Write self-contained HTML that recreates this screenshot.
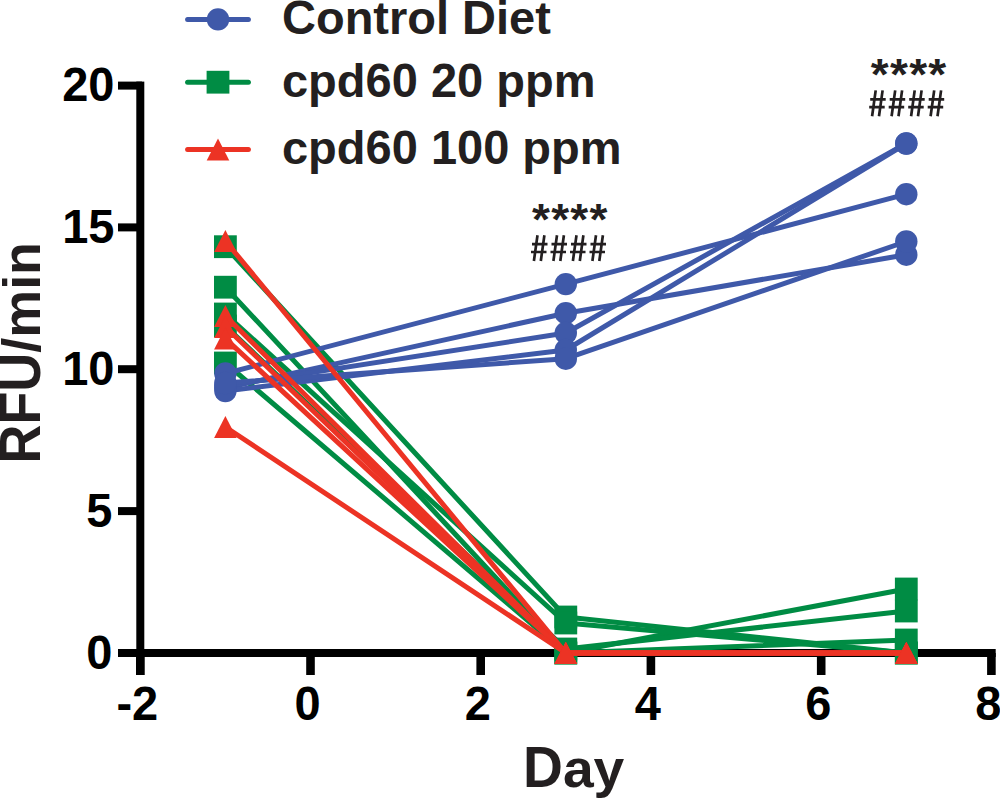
<!DOCTYPE html>
<html><head><meta charset="utf-8"><style>
html,body{margin:0;padding:0;background:#fff;width:1000px;height:799px;overflow:hidden}
svg{display:block}
text{font-family:"Liberation Sans",sans-serif}
.tk{font-weight:bold;font-size:47px;fill:#000}
.lg{font-weight:bold;font-size:47px;fill:#231F20}
.ti{font-weight:bold;font-size:54px;fill:#231F20}
.ast{font-weight:bold;font-size:46px;letter-spacing:1.27px;fill:#231F20}
.hs{font-weight:normal;font-size:35.5px;fill:#231F20}
</style></head><body>
<svg width="1000" height="799" viewBox="0 0 1000 799">
<rect x="136.3" y="81.6" width="8" height="593.4" fill="#000"/>
<rect x="118" y="81.6" width="24" height="8" fill="#000"/>
<rect x="118" y="223.4" width="24" height="8" fill="#000"/>
<rect x="118" y="365.2" width="24" height="8" fill="#000"/>
<rect x="118" y="507.1" width="24" height="8" fill="#000"/>
<rect x="118" y="649.0" width="24" height="8" fill="#000"/>
<rect x="118" y="649" width="877.7" height="8" fill="#000"/>
<rect x="136.0" y="653" width="8.6" height="22" fill="#000"/>
<rect x="306.2" y="653" width="8.6" height="22" fill="#000"/>
<rect x="476.4" y="653" width="8.6" height="22" fill="#000"/>
<rect x="646.6" y="653" width="8.6" height="22" fill="#000"/>
<rect x="816.9" y="653" width="8.6" height="22" fill="#000"/>
<rect x="987.1" y="653" width="8.6" height="22" fill="#000"/>
<text transform="translate(114.5,101.4) scale(1,1.025)" text-anchor="end" class="tk">20</text>
<text transform="translate(114.5,243.2) scale(1,1.025)" text-anchor="end" class="tk">15</text>
<text transform="translate(114.5,385.0) scale(1,1.025)" text-anchor="end" class="tk">10</text>
<text transform="translate(112.3,526.9) scale(1,1.025)" text-anchor="end" class="tk">5</text>
<text transform="translate(112.3,668.8) scale(1,1.025)" text-anchor="end" class="tk">0</text>
<text transform="translate(137.3,720.0) scale(1,1.025)" text-anchor="middle" class="tk">-2</text>
<text transform="translate(307.5,720.0) scale(1,1.025)" text-anchor="middle" class="tk">0</text>
<text transform="translate(477.7,720.0) scale(1,1.025)" text-anchor="middle" class="tk">2</text>
<text transform="translate(647.9,720.0) scale(1,1.025)" text-anchor="middle" class="tk">4</text>
<text transform="translate(818.2,720.0) scale(1,1.025)" text-anchor="middle" class="tk">6</text>
<text transform="translate(988.4,720.0) scale(1,1.025)" text-anchor="middle" class="tk">8</text>
<polyline points="225.4,246.7 565.8,617.0 906.3,653.0" fill="none" stroke="#008C44" stroke-width="5.0" stroke-linejoin="round" stroke-linecap="round"/>
<polyline points="225.4,287.2 565.8,653.0 906.3,589.0" fill="none" stroke="#008C44" stroke-width="5.0" stroke-linejoin="round" stroke-linecap="round"/>
<polyline points="225.4,314.0 565.8,623.0 906.3,653.0" fill="none" stroke="#008C44" stroke-width="5.0" stroke-linejoin="round" stroke-linecap="round"/>
<polyline points="225.4,326.0 565.8,649.0 906.3,611.0" fill="none" stroke="#008C44" stroke-width="5.0" stroke-linejoin="round" stroke-linecap="round"/>
<polyline points="225.4,363.0 565.8,653.0 906.3,640.0" fill="none" stroke="#008C44" stroke-width="5.0" stroke-linejoin="round" stroke-linecap="round"/>
<rect x="214.0" y="235.3" width="22.8" height="22.8" fill="#008C44"/>
<rect x="554.4" y="605.6" width="22.8" height="22.8" fill="#008C44"/>
<rect x="894.9" y="641.6" width="22.8" height="22.8" fill="#008C44"/>
<rect x="214.0" y="275.8" width="22.8" height="22.8" fill="#008C44"/>
<rect x="554.4" y="641.6" width="22.8" height="22.8" fill="#008C44"/>
<rect x="894.9" y="577.6" width="22.8" height="22.8" fill="#008C44"/>
<rect x="214.0" y="302.6" width="22.8" height="22.8" fill="#008C44"/>
<rect x="554.4" y="611.6" width="22.8" height="22.8" fill="#008C44"/>
<rect x="894.9" y="641.6" width="22.8" height="22.8" fill="#008C44"/>
<rect x="214.0" y="314.6" width="22.8" height="22.8" fill="#008C44"/>
<rect x="554.4" y="637.6" width="22.8" height="22.8" fill="#008C44"/>
<rect x="894.9" y="599.6" width="22.8" height="22.8" fill="#008C44"/>
<rect x="214.0" y="351.6" width="22.8" height="22.8" fill="#008C44"/>
<rect x="554.4" y="641.6" width="22.8" height="22.8" fill="#008C44"/>
<rect x="894.9" y="628.6" width="22.8" height="22.8" fill="#008C44"/>
<polyline points="225.4,373.5 565.8,284.1 906.3,194.2" fill="none" stroke="#3F59A9" stroke-width="5.0" stroke-linejoin="round" stroke-linecap="round"/>
<polyline points="225.4,388.0 565.8,313.2 906.3,254.7" fill="none" stroke="#3F59A9" stroke-width="5.0" stroke-linejoin="round" stroke-linecap="round"/>
<polyline points="225.4,386.0 565.8,333.0 906.3,143.5" fill="none" stroke="#3F59A9" stroke-width="5.0" stroke-linejoin="round" stroke-linecap="round"/>
<polyline points="225.4,391.0 565.8,350.0 906.3,143.5" fill="none" stroke="#3F59A9" stroke-width="5.0" stroke-linejoin="round" stroke-linecap="round"/>
<polyline points="225.4,383.0 565.8,358.7 906.3,241.5" fill="none" stroke="#3F59A9" stroke-width="5.0" stroke-linejoin="round" stroke-linecap="round"/>
<circle cx="225.4" cy="373.5" r="11.2" fill="#3F59A9"/>
<circle cx="565.8" cy="284.1" r="11.2" fill="#3F59A9"/>
<circle cx="906.3" cy="194.2" r="11.2" fill="#3F59A9"/>
<circle cx="225.4" cy="388.0" r="11.2" fill="#3F59A9"/>
<circle cx="565.8" cy="313.2" r="11.2" fill="#3F59A9"/>
<circle cx="906.3" cy="254.7" r="11.2" fill="#3F59A9"/>
<circle cx="225.4" cy="386.0" r="11.2" fill="#3F59A9"/>
<circle cx="565.8" cy="333.0" r="11.2" fill="#3F59A9"/>
<circle cx="906.3" cy="143.5" r="11.2" fill="#3F59A9"/>
<circle cx="225.4" cy="391.0" r="11.2" fill="#3F59A9"/>
<circle cx="565.8" cy="350.0" r="11.2" fill="#3F59A9"/>
<circle cx="906.3" cy="143.5" r="11.2" fill="#3F59A9"/>
<circle cx="225.4" cy="383.0" r="11.2" fill="#3F59A9"/>
<circle cx="565.8" cy="358.7" r="11.2" fill="#3F59A9"/>
<circle cx="906.3" cy="241.5" r="11.2" fill="#3F59A9"/>
<polyline points="225.4,241.0 565.8,653.0 906.3,653.0" fill="none" stroke="#EC3324" stroke-width="5.0" stroke-linejoin="round" stroke-linecap="round"/>
<polyline points="225.4,316.0 565.8,653.0 906.3,653.0" fill="none" stroke="#EC3324" stroke-width="5.0" stroke-linejoin="round" stroke-linecap="round"/>
<polyline points="225.4,327.0 565.8,653.0 906.3,653.0" fill="none" stroke="#EC3324" stroke-width="5.0" stroke-linejoin="round" stroke-linecap="round"/>
<polyline points="225.4,338.6 565.8,653.0 906.3,653.0" fill="none" stroke="#EC3324" stroke-width="5.0" stroke-linejoin="round" stroke-linecap="round"/>
<polyline points="225.4,427.0 565.8,653.0 906.3,653.0" fill="none" stroke="#EC3324" stroke-width="5.0" stroke-linejoin="round" stroke-linecap="round"/>
<polygon points="225.4,230.0 236.7,252.0 214.1,252.0" fill="#EC3324"/>
<polygon points="565.8,642.0 577.1,664.0 554.5,664.0" fill="#EC3324"/>
<polygon points="906.3,642.0 917.6,664.0 895.0,664.0" fill="#EC3324"/>
<polygon points="225.4,305.0 236.7,327.0 214.1,327.0" fill="#EC3324"/>
<polygon points="565.8,642.0 577.1,664.0 554.5,664.0" fill="#EC3324"/>
<polygon points="906.3,642.0 917.6,664.0 895.0,664.0" fill="#EC3324"/>
<polygon points="225.4,316.0 236.7,338.0 214.1,338.0" fill="#EC3324"/>
<polygon points="565.8,642.0 577.1,664.0 554.5,664.0" fill="#EC3324"/>
<polygon points="906.3,642.0 917.6,664.0 895.0,664.0" fill="#EC3324"/>
<polygon points="225.4,327.6 236.7,349.6 214.1,349.6" fill="#EC3324"/>
<polygon points="565.8,642.0 577.1,664.0 554.5,664.0" fill="#EC3324"/>
<polygon points="906.3,642.0 917.6,664.0 895.0,664.0" fill="#EC3324"/>
<polygon points="225.4,416.0 236.7,438.0 214.1,438.0" fill="#EC3324"/>
<polygon points="565.8,642.0 577.1,664.0 554.5,664.0" fill="#EC3324"/>
<polygon points="906.3,642.0 917.6,664.0 895.0,664.0" fill="#EC3324"/>
<line x1="187.6" y1="19.4" x2="248.4" y2="19.4" stroke="#3F59A9" stroke-width="5.0" stroke-linecap="round"/>
<circle cx="218.0" cy="19.4" r="11.2" fill="#3F59A9"/>
<line x1="187.6" y1="82.2" x2="248.4" y2="82.2" stroke="#008C44" stroke-width="5.0" stroke-linecap="round"/>
<rect x="206.6" y="70.8" width="22.8" height="22.8" fill="#008C44"/>
<line x1="187.6" y1="149.4" x2="248.4" y2="149.4" stroke="#EC3324" stroke-width="5.0" stroke-linecap="round"/>
<polygon points="218.0,138.4 229.3,160.4 206.7,160.4" fill="#EC3324"/>
<text transform="translate(282.00,34.4) scale(1.0,1.04)" class="lg">C</text>
<text transform="translate(315.94,34.4) scale(1.0,1.0)" class="lg">o</text>
<text transform="translate(344.64,34.4) scale(1.0,1.0)" class="lg">n</text>
<text transform="translate(373.36,34.4) scale(1.0,1.0)" class="lg">t</text>
<text transform="translate(389.00,34.4) scale(1.0,1.0)" class="lg">r</text>
<text transform="translate(407.30,34.4) scale(1.0,1.0)" class="lg">o</text>
<text transform="translate(436.00,34.4) scale(1.0,1.0)" class="lg">l</text>
<text transform="translate(462.12,34.4) scale(1.0,1.04)" class="lg">D</text>
<text transform="translate(496.06,34.4) scale(1.0,1.0)" class="lg">i</text>
<text transform="translate(509.12,34.4) scale(1.0,1.0)" class="lg">e</text>
<text transform="translate(535.27,34.4) scale(1.0,1.0)" class="lg">t</text>
<text transform="translate(282.00,97.1) scale(1.0,1.0)" class="lg">c</text>
<text transform="translate(308.12,97.1) scale(1.0,1.0)" class="lg">p</text>
<text transform="translate(336.84,97.1) scale(1.0,1.0)" class="lg">d</text>
<text transform="translate(365.55,97.1) scale(1.0,1.025)" class="lg">6</text>
<text transform="translate(391.69,97.1) scale(1.0,1.025)" class="lg">0</text>
<text transform="translate(430.89,97.1) scale(1.0,1.025)" class="lg">2</text>
<text transform="translate(457.03,97.1) scale(1.0,1.025)" class="lg">0</text>
<text transform="translate(496.22,97.1) scale(1.0,1.0)" class="lg">p</text>
<text transform="translate(524.94,97.1) scale(1.0,1.0)" class="lg">p</text>
<text transform="translate(553.64,97.1) scale(1.0,1.0)" class="lg">m</text>
<text transform="translate(282.00,164.3) scale(1.0,1.0)" class="lg">c</text>
<text transform="translate(308.12,164.3) scale(1.0,1.0)" class="lg">p</text>
<text transform="translate(336.84,164.3) scale(1.0,1.0)" class="lg">d</text>
<text transform="translate(365.55,164.3) scale(1.0,1.025)" class="lg">6</text>
<text transform="translate(391.69,164.3) scale(1.0,1.025)" class="lg">0</text>
<text transform="translate(430.89,164.3) scale(1.0,1.025)" class="lg">1</text>
<text transform="translate(457.03,164.3) scale(1.0,1.025)" class="lg">0</text>
<text transform="translate(483.17,164.3) scale(1.0,1.025)" class="lg">0</text>
<text transform="translate(522.36,164.3) scale(1.0,1.0)" class="lg">p</text>
<text transform="translate(551.08,164.3) scale(1.0,1.0)" class="lg">p</text>
<text transform="translate(579.78,164.3) scale(1.0,1.0)" class="lg">m</text>
<text transform="translate(523.00,787.3) scale(1.023,1.07)" class="ti">D</text>
<text transform="translate(562.88,787.3) scale(1.023,1.0)" class="ti">a</text>
<text transform="translate(593.60,787.3) scale(1.023,1.0)" class="ti">y</text>
<g transform="translate(40,463.5) rotate(-90)"><text transform="translate(0.00,0) scale(0.998,1.05)" class="ti">R</text>
<text transform="translate(38.91,0) scale(0.998,1.05)" class="ti">F</text>
<text transform="translate(71.82,0) scale(0.998,1.05)" class="ti">U</text>
<text transform="translate(110.75,0) scale(0.998,1.0)" class="ti">/</text>
<text transform="translate(125.72,0) scale(0.998,1.0)" class="ti">m</text>
<text transform="translate(173.64,0) scale(0.998,0.97)" class="ti">i</text>
<text transform="translate(188.62,0) scale(0.998,1.0)" class="ti">n</text></g>
<text transform="translate(532,235) scale(1,0.965)" class="ast">****</text>
<path d="M537.5,235.2L533.9,261.0M544.4,235.2L540.8,261.0M532.0,244.2H547.5M531.0,252.0H546.5M557.0,235.2L553.4,261.0M563.9,235.2L560.3,261.0M551.5,244.2H567.0M550.5,252.0H566.0M576.5,235.2L572.9,261.0M583.4,235.2L579.8,261.0M571.0,244.2H586.5M570.0,252.0H585.5M596.0,235.2L592.4,261.0M602.9,235.2L599.3,261.0M590.5,244.2H606.0M589.5,252.0H605.0" stroke="#231F20" stroke-width="2.7" fill="none"/>
<text transform="translate(870.8,90.4) scale(1,0.965)" class="ast">****</text>
<path d="M875.7,90.4L872.1,116.2M882.6,90.4L879.0,116.2M870.2,99.4H885.7M869.2,107.2H884.7M895.2,90.4L891.6,116.2M902.1,90.4L898.5,116.2M889.7,99.4H905.2M888.7,107.2H904.2M914.7,90.4L911.1,116.2M921.6,90.4L918.0,116.2M909.2,99.4H924.7M908.2,107.2H923.7M934.2,90.4L930.6,116.2M941.1,90.4L937.5,116.2M928.7,99.4H944.2M927.7,107.2H943.2" stroke="#231F20" stroke-width="2.7" fill="none"/>
</svg>
</body></html>
